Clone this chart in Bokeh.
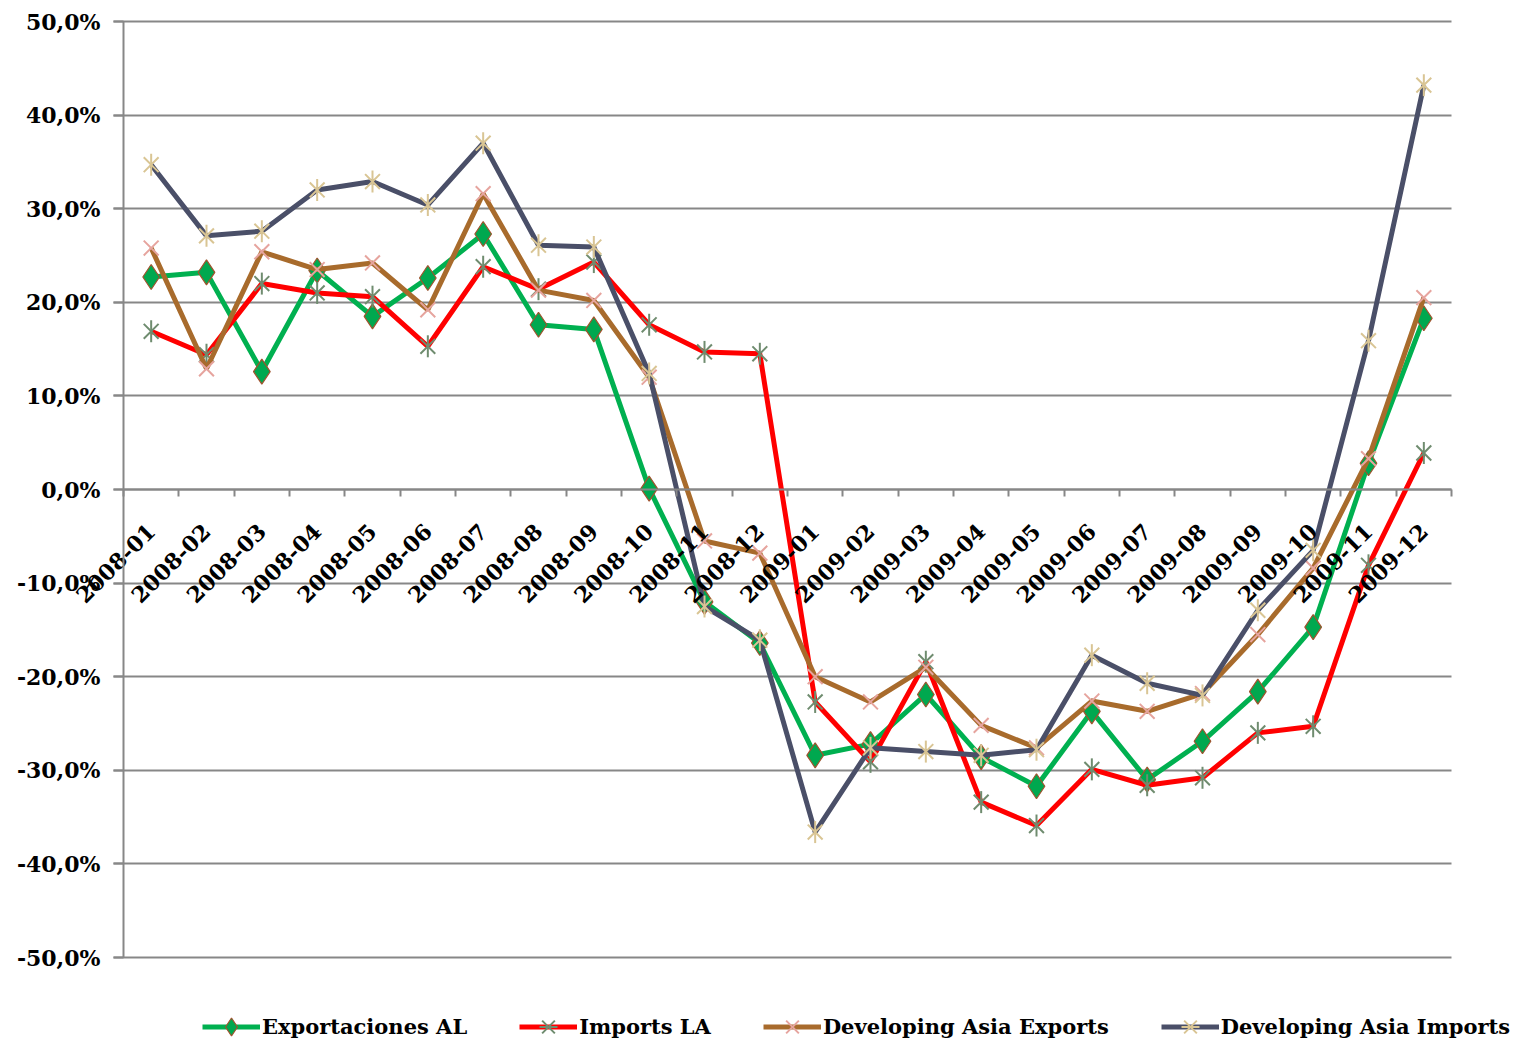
from math import pi
from bokeh.plotting import figure
from bokeh.models import Range1d, FixedTicker, Legend, LegendItem
from bokeh.embed import file_html
from bokeh.resources import INLINE

months = ["2008-01", "2008-02", "2008-03", "2008-04", "2008-05", "2008-06",
          "2008-07", "2008-08", "2008-09", "2008-10", "2008-11", "2008-12",
          "2009-01", "2009-02", "2009-03", "2009-04", "2009-05", "2009-06",
          "2009-07", "2009-08", "2009-09", "2009-10", "2009-11", "2009-12"]

export_al = [22.7, 23.2, 12.6, 23.4, 18.5, 22.6, 27.3, 17.6, 17.1, 0.1, -12.0, -16.4,
             -28.4, -27.2, -21.9, -28.6, -31.7, -23.7, -31.0, -26.9, -21.6, -14.7, 2.8, 18.3]
imports_la = [16.9, 14.4, 22.0, 21.0, 20.6, 15.3, 23.8, 21.4, 24.3, 17.6, 14.7, 14.5,
              -22.7, -29.1, -18.4, -33.4, -35.9, -29.9, -31.6, -30.8, -26.0, -25.3, -8.1, 3.9]
asia_exports = [25.8, 12.9, 25.4, 23.5, 24.2, 19.2, 31.6, 21.3, 20.2, 12.0, -5.5, -6.8,
                -20.0, -22.7, -19.0, -25.2, -27.6, -22.6, -23.7, -21.8, -15.5, -8.4, 3.3, 20.5]
asia_imports = [34.7, 27.1, 27.6, 32.0, 32.9, 30.4, 37.0, 26.1, 25.9, 12.4, -12.5, -16.1,
                -36.6, -27.6, -28.0, -28.4, -27.8, -17.7, -20.7, -22.0, -12.9, -6.5, 15.9, 43.2]

series_names = ["Exportaciones AL", "Imports LA", "Developing Asia Exports", "Developing Asia Imports"]
y_ticks = [-50, -40, -30, -20, -10, 0, 10, 20, 30, 40, 50]
y_tick_labels = ["-50,0%", "-40,0%", "-30,0%", "-20,0%", "-10,0%", "0,0%",
                 "10,0%", "20,0%", "30,0%", "40,0%", "50,0%"]

FONT = "DejaVu Serif"
GRID = "#878787"

n = len(months)
xc = [i + 0.5 for i in range(n)]

# layout geometry (pixels): plot area from x=123 to 1451, y=21 (top) to 957 (bottom)
W, H = 1525, 1042
LEFT, RIGHT, TOP, BOTTOM = 123, 1451, 21, 957
PX_X = (RIGHT - LEFT) / n          # pixels per category
PX_Y = (BOTTOM - TOP) / 100.0      # pixels per percentage point

x_range = Range1d(-LEFT / PX_X, (W - LEFT) / PX_X)
y_range = Range1d(-50 - (H - BOTTOM) / PX_Y, 50 + TOP / PX_Y)

p = figure(width=W, height=H, output_backend="svg", toolbar_location=None,
           x_range=x_range, y_range=y_range,
           min_border_left=0, min_border_right=0, min_border_top=0, min_border_bottom=0)
p.outline_line_color = None
p.background_fill_color = "white"
p.border_fill_color = "white"

# y axis, drawn at x = 0
p.yaxis.fixed_location = 0
p.yaxis.bounds = (-50, 50)
p.yaxis.ticker = FixedTicker(ticks=y_ticks)
p.yaxis.major_label_overrides = {t: l for t, l in zip(y_ticks, y_tick_labels)}
p.yaxis.major_label_text_font = FONT
p.yaxis.major_label_text_font_style = "bold"
p.yaxis.major_label_text_font_size = "22px"
p.yaxis.major_label_text_color = "black"
p.yaxis.axis_line_color = GRID
p.yaxis.axis_line_width = 2
p.yaxis.major_tick_line_color = GRID
p.yaxis.major_tick_line_width = 2
p.yaxis.major_tick_out = 10
p.yaxis.major_tick_in = 0
p.yaxis.minor_tick_line_color = None
p.yaxis.major_label_standoff = 13

# x axis crossing at zero: labels at category centres, ticks at category boundaries
p.xaxis.fixed_location = 0
p.xaxis.bounds = (0, n)
p.xaxis.ticker = FixedTicker(ticks=xc, minor_ticks=list(range(n + 1)))
p.xaxis.major_label_overrides = {x: m for x, m in zip(xc, months)}
p.xaxis.major_label_orientation = pi / 4
p.xaxis.major_label_text_font = FONT
p.xaxis.major_label_text_font_style = "bold"
p.xaxis.major_label_text_font_size = "22px"
p.xaxis.major_label_text_color = "black"
p.xaxis.major_label_standoff = 31
p.xaxis.axis_line_color = GRID
p.xaxis.axis_line_width = 2
p.xaxis.major_tick_line_color = None
p.xaxis.minor_tick_line_color = GRID
p.xaxis.minor_tick_line_width = 2
p.xaxis.minor_tick_out = 7
p.xaxis.minor_tick_in = 0

p.xgrid.visible = False
p.ygrid.ticker = FixedTicker(ticks=y_ticks)
p.ygrid.grid_line_color = GRID
p.ygrid.grid_line_width = 2
try:
    p.ygrid.cross_bounds = (-10 / PX_X, n)
except AttributeError:
    p.ygrid.visible = False
    p.segment(x0=[-10 / PX_X] * len(y_ticks), y0=y_ticks, x1=[n] * len(y_ticks), y1=y_ticks,
              line_color=GRID, line_width=2)

items = []
LW = 5

# Exportaciones AL
l1 = p.line(xc, export_al, line_color="#00B050", line_width=LW)
m1 = p.scatter(xc, export_al, marker="diamond", size=25, fill_color="#00A84F",
               line_color="#A0522D", line_width=1.2)
items.append(LegendItem(label=series_names[0], renderers=[l1, m1]))

# Imports LA
l2 = p.line(xc, imports_la, line_color="#FF0000", line_width=LW)
m2a = p.scatter(xc, imports_la, marker="x", size=21, line_color="#6F8C6F", line_width=2)
m2b = p.scatter(xc, imports_la, marker="dash", angle=pi / 2, size=22, line_color="#6F8C6F", line_width=2)
items.append(LegendItem(label=series_names[1], renderers=[l2, m2a, m2b]))

# Developing Asia Exports
l3 = p.line(xc, asia_exports, line_color="#A86B2C", line_width=LW)
m3 = p.scatter(xc, asia_exports, marker="x", size=21, line_color="#E6A49E", line_width=2)
items.append(LegendItem(label=series_names[2], renderers=[l3, m3]))

# Developing Asia Imports
l4 = p.line(xc, asia_imports, line_color="#4A4F68", line_width=LW)
m4a = p.scatter(xc, asia_imports, marker="x", size=21, line_color="#D9C594", line_width=2)
m4b = p.scatter(xc, asia_imports, marker="dash", angle=pi / 2, size=22, line_color="#D9C594", line_width=2)
items.append(LegendItem(label=series_names[3], renderers=[l4, m4a, m4b]))

legend = Legend(items=items, orientation="horizontal", location=(202, -7),
                glyph_width=58, glyph_height=45, label_standoff=2, spacing=52,
                padding=0, margin=0, border_line_color=None, background_fill_alpha=0,
                label_text_font=FONT, label_text_font_style="bold",
                label_text_font_size="21px", label_text_color="black")
p.add_layout(legend)

open("out.html", "w").write(file_html(p, INLINE))
